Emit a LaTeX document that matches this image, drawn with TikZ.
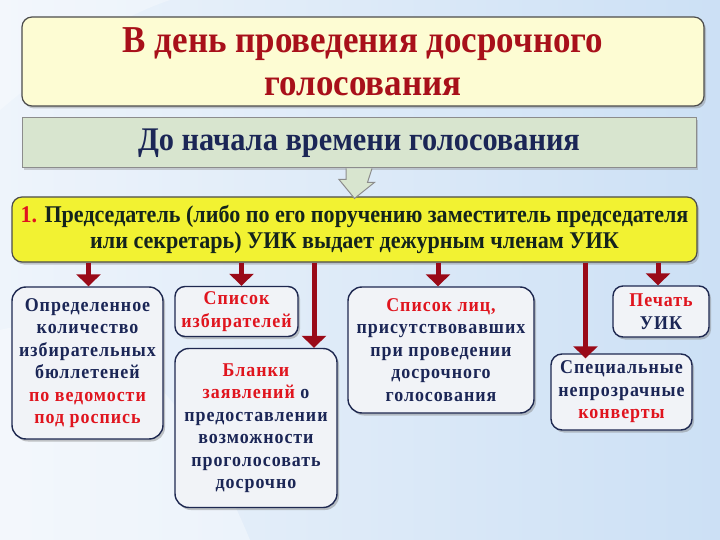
\documentclass[tikz,border=0pt]{standalone}
\usepackage{fontspec}
\setmainfont{Liberation Serif}[FakeStretch=0.92]
\newfontfamily\wideserif[LetterSpace=5,FakeStretch=0.92]{Liberation Serif}
\usetikzlibrary{arrows.meta,shadows}
\definecolor{bgleft}{HTML}{EEF4FB}
\definecolor{bgright}{HTML}{CCE0F5}
\definecolor{titlefill}{HTML}{FDFCD3}
\definecolor{titlered}{HTML}{A8101A}
\definecolor{barfill}{HTML}{D8E5CF}
\definecolor{navy}{HTML}{1B2656}
\definecolor{mainfill}{HTML}{F2F232}
\definecolor{maintext}{HTML}{14241C}
\definecolor{hired}{HTML}{E0141E}
\definecolor{boxfill}{HTML}{F1F3F7}
\definecolor{boxline}{HTML}{1E2850}
\definecolor{arrred}{HTML}{9A0A18}
\newcommand{\rd}[1]{\textcolor{hired}{#1}}
\begin{document}
\begin{tikzpicture}[x=1pt,y=-1pt]
    \tikzstyle{box}=[draw=boxline, line width=1.4pt, rounded corners=14pt, fill=boxfill, align=center, inner sep=2pt,
      drop shadow={opacity=0.45, shadow xshift=2pt, shadow yshift=-2.5pt}, text=navy,
      font=\wideserif\bfseries\fontsize{19.5}{22.5}\selectfont]
    \tikzstyle{arr}=[draw=arrred, line width=5pt, -{Triangle[width=24pt,length=12pt]}]
    \shade[left color=bgleft, right color=bgright] (0,0) rectangle (720,540);
    \fill[white, opacity=0.35] (0,330) .. controls (120,300) and (200,420) .. (250,540) -- (0,540) -- cycle;
    \fill[white, opacity=0.3] (0,0) -- (170,0) .. controls (110,20) and (60,60) .. (0,110) -- cycle;
    \useasboundingbox (0,0) rectangle (720,540);
    % headers
    \node[draw=black!70, line width=1.2pt, rounded corners=10pt, fill=titlefill, minimum width=682pt, minimum height=89pt,
      drop shadow={opacity=0.4, shadow xshift=2pt, shadow yshift=-2.5pt}, align=center, text=titlered,
      font=\bfseries\fontsize{38}{43}\selectfont] (title) at (363,61.5) {В день проведения досрочного\\голосования};
    \node[draw=black!45, line width=1pt, fill=barfill, minimum width=674pt, minimum height=50pt,
      drop shadow={opacity=0.35, shadow xshift=2pt, shadow yshift=-2.5pt}, text=navy,
      font=\bfseries\fontsize{33}{34}\selectfont] (bar) at (359,143) {До начала времени голосования};
    \node[draw=black!70, line width=1.2pt, rounded corners=10pt, fill=mainfill, minimum width=685pt, minimum height=65pt,
      drop shadow={opacity=0.4, shadow xshift=2pt, shadow yshift=-2.5pt}, align=center, text=maintext,
      font=\bfseries\fontsize{24}{26}\selectfont] (main) at (354.5,229.5)
      {\rd{1.} Председатель (либо по его поручению заместитель председателя\\или секретарь) УИК выдает дежурным членам УИК};
    % block arrow
    \draw[draw=black!45, line width=1pt, fill=barfill] ([xshift=-13pt]bar.south) -- ++(0,11) -- ++(-7,0)
      -- ([yshift=-2pt]main.north) -- ++(20,-16) -- ++(-7,0) -- ([xshift=13pt]bar.south);
    % items
    \node[box, minimum width=151pt, minimum height=152pt] (c1) at (87.5,363)
      {Определенное\\количество\\избирательных\\бюллетеней\\\rd{по ведомости}\\\rd{под роспись}};
    \node[box, minimum width=123pt, minimum height=50pt, rounded corners=10pt] (c2) at (236.5,311.5)
      {\rd{Список}\\\rd{избирателей}};
    \node[box, minimum width=162pt, minimum height=159pt] (c3) at (256,428)
      {\rd{Бланки}\\\rd{заявлений} о\\предоставлении\\возможности\\проголосовать\\досрочно};
    \node[box, minimum width=186pt, minimum height=126pt] (c4) at (441,350)
      {\rd{Список лиц,}\\присутствовавших\\при проведении\\досрочного\\голосования};
    \node[box, minimum width=141pt, minimum height=76pt, rounded corners=11pt] (c5) at (621.5,392)
      {Специальные\\непрозрачные\\\rd{конверты}};
    \node[box, minimum width=96pt, minimum height=51pt, rounded corners=10pt] (c6) at (661,311.5)
      {\rd{Печать}\\УИК};
    % arrows
    \draw[arr] ([xshift=1pt]c1.north |- main.south) -- ([xshift=1pt]c1.north);
    \draw[arr] ([xshift=5pt]c2.north |- main.south) -- ([xshift=5pt]c2.north);
    \draw[arr] ([xshift=58pt]c3.north |- main.south) -- ([xshift=58pt]c3.north);
    \draw[arr] ([xshift=-3pt]c4.north |- main.south) -- ([xshift=-3pt]c4.north);
    \draw[arr] ([xshift=-36pt]c5.north |- main.south) -- ([xshift=-36pt,yshift=-5pt]c5.north);
    \draw[arr] ([xshift=-3pt]c6.north |- main.south) -- ([xshift=-3pt]c6.north);
\end{tikzpicture}
\end{document}
